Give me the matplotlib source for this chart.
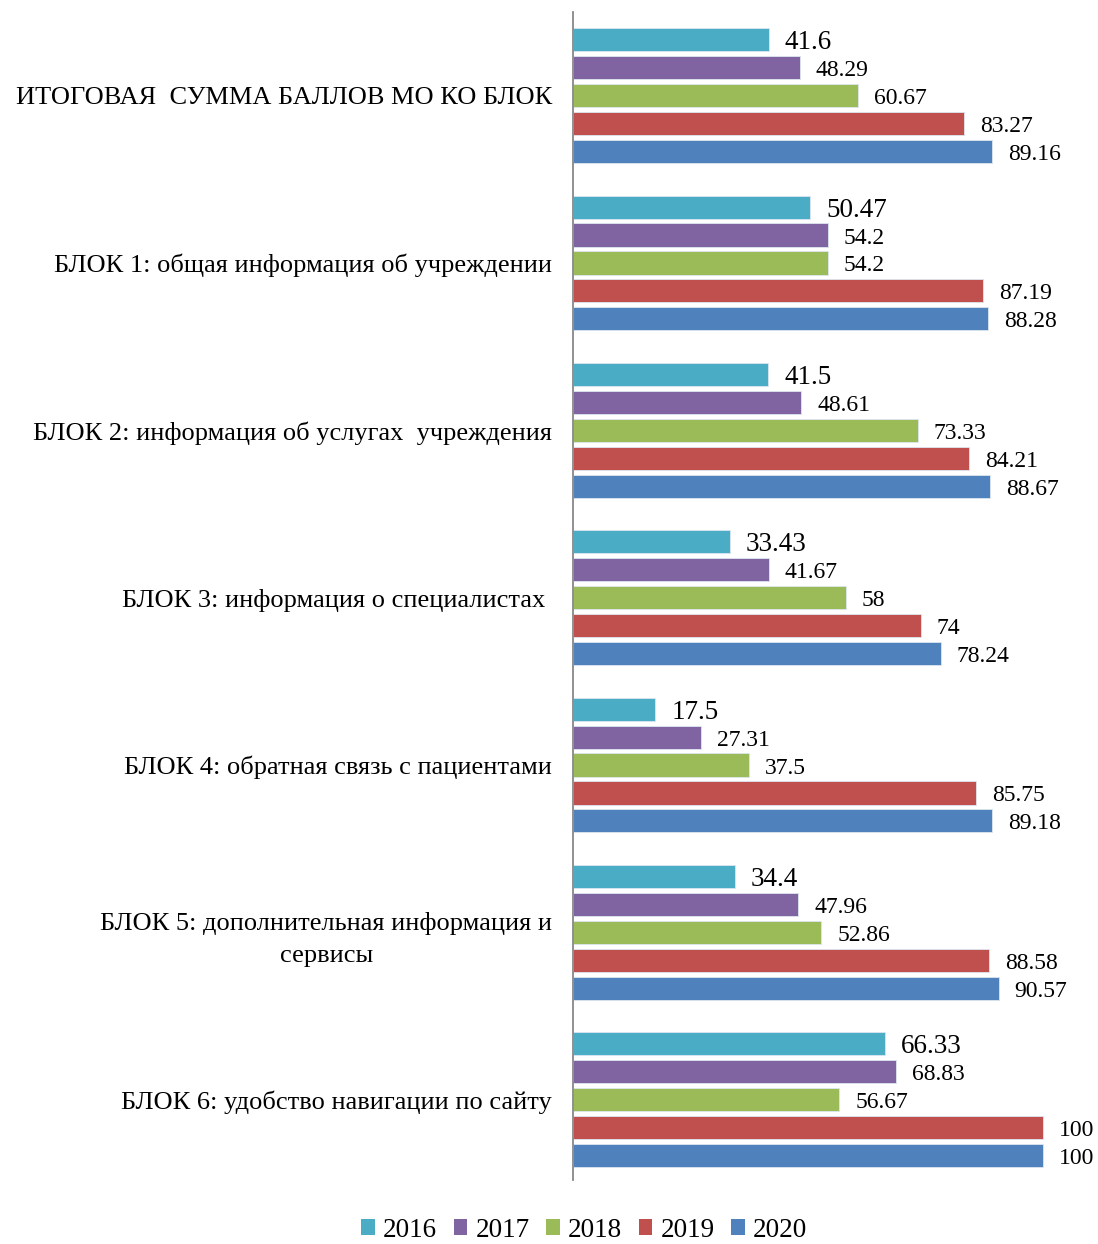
import matplotlib.pyplot as plt
import numpy as np
from matplotlib.patches import Patch

plt.rcParams['font.family'] = ['Liberation Serif', 'DejaVu Serif']

categories = [
    "ИТОГОВАЯ  СУММА БАЛЛОВ МО КО БЛОК",
    "БЛОК 1: общая информация об учреждении",
    "БЛОК 2: информация об услугах  учреждения",
    "БЛОК 3: информация о специалистах ",
    "БЛОК 4: обратная связь с пациентами",
    "БЛОК 5: дополнительная информация и\nсервисы",
    "БЛОК 6: удобство навигации по сайту",
]
years = ["2016", "2017", "2018", "2019", "2020"]
v2016 = [41.6, 50.47, 41.5, 33.43, 17.5, 34.4, 66.33]
v2017 = [48.29, 54.2, 48.61, 41.67, 27.31, 47.96, 68.83]
v2018 = [60.67, 54.2, 73.33, 58, 37.5, 52.86, 56.67]
v2019 = [83.27, 87.19, 84.21, 74, 85.75, 88.58, 100]
v2020 = [89.16, 88.28, 88.67, 78.24, 89.18, 90.57, 100]
colors = ["#4BACC6", "#8064A2", "#9BBB59", "#C0504D", "#4F81BD"]

series = [v2016, v2017, v2018, v2019, v2020]

fig = plt.figure(figsize=(10.98, 12.44), dpi=100)
ax = fig.add_axes([0.5219, 0.0514, 0.478, 0.9390])

y = np.arange(len(categories))
pitch = 0.167
for i, vals in enumerate(series):
    pos = y + (i - 2) * pitch
    ax.barh(pos, vals, height=0.138, color=colors[i], edgecolor="#dde6f0",
            linewidth=0.6, label=years[i])
    for p, v in zip(pos, vals):
        fs = 19.5 if i == 0 else 17
        ax.text(v + 3.4, p + 0.018, f"{v:g}", va="center", ha="left",
                fontsize=fs, clip_on=False)

ax.set_xlim(0, 525 / 4.7)
ax.set_ylim(6.48, -0.5)
ax.set_yticks(y)
ax.set_yticklabels(categories, fontsize=19, multialignment="center",
                   linespacing=1.55)
ax.tick_params(axis="y", length=0, pad=15)
ax.set_xticks([])
for s in ["top", "right", "bottom"]:
    ax.spines[s].set_visible(False)
ax.spines["left"].set_color("#888888")
ax.spines["left"].set_linewidth(1.3)

handles = [Patch(facecolor=c, edgecolor="none") for c in colors]
fig.legend(handles, years, loc="center", bbox_to_anchor=(0.532, 0.011),
           ncol=5, frameon=False, fontsize=19.5, handlelength=0.5,
           handleheight=0.5, handletextpad=0.3, columnspacing=0.62)

fig.savefig("out.png", dpi=100)
